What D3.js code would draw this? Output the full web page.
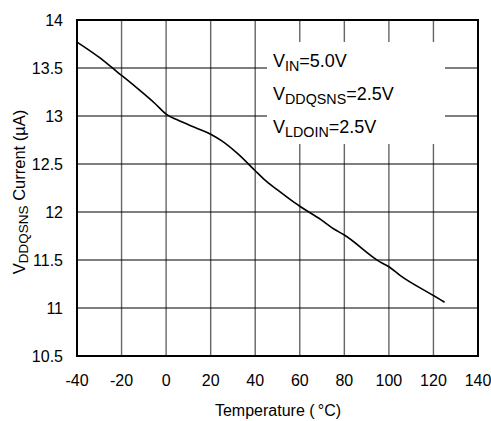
<!DOCTYPE html>
<html>
<head>
<meta charset="utf-8">
<script src="https://cdn.jsdelivr.net/npm/d3@7"></script>
<style>
body{margin:0;background:#fff;}
text{font-family:"Liberation Sans",Arial,sans-serif;fill:#000;}
</style>
</head>
<body>
<div id="container"></div>
<script>
let w=491;
let h=421;

// data
let temps=[-40,-30,-22,-13,-5,0,5,14,20,25,32,40,44,50,57.5,60,69.5,75.5,80,96,100,105,120,125];
let current=[13.77,13.61,13.46,13.29,13.13,13.02,12.96,12.87,12.81,12.74,12.61,12.43,12.34,12.23,12.10,12.06,11.92,11.82,11.76,11.48,11.43,11.34,11.13,11.06];
let xTicks=[-40,-20,0,20,40,60,80,100,120,140];
let yTicks=[10.5,11,11.5,12,12.5,13,13.5,14];
let notes=[["V","IN","=5.0V"],["V","DDQSNS","=2.5V"],["V","LDOIN","=2.5V"]];

let pl=77,pr=478,pt=20,pb=356;

let x=d3.scaleLinear().domain([-40,140]).range([pl,pr]);
let y=d3.scaleLinear().domain([10.5,14]).range([pb,pt]);

let viz=d3.select("#container").append("svg")
  .attr("width",w).attr("height",h);

// grid
viz.append("g").selectAll("line").data(xTicks.slice(1,-1)).enter()
  .append("line")
  .attr("x1",d=>x(d)).attr("x2",d=>x(d))
  .attr("y1",pt).attr("y2",pb)
  .attr("stroke","#666").attr("stroke-width",1.4);
viz.append("g").selectAll("line").data(yTicks.slice(1,-1)).enter()
  .append("line")
  .attr("x1",pl).attr("x2",pr)
  .attr("y1",d=>y(d)).attr("y2",d=>y(d))
  .attr("stroke","#000").attr("stroke-width",1);

// white box behind the notes
viz.append("rect")
  .attr("x",267).attr("y",42).attr("width",178).attr("height",102)
  .attr("fill","#fff");

let note=viz.append("g");
notes.forEach(function(n,i){
  let t=note.append("text")
    .attr("x",273).attr("y",67+i*33)
    .attr("font-size",18);
  t.append("tspan").text(n[0]);
  t.append("tspan").text(n[1]).attr("font-size",14.3).attr("dy",4);
  t.append("tspan").text(n[2]).attr("dy",-4);
});

// curve
let line=d3.line().x((d,i)=>x(temps[i])).y(d=>y(d)).curve(d3.curveMonotoneX);
viz.append("path")
  .datum(current)
  .attr("d",line)
  .attr("fill","none")
  .attr("stroke","#000")
  .attr("stroke-width",1.6);

// frame
viz.append("rect")
  .attr("x",pl).attr("y",pt)
  .attr("width",pr-pl).attr("height",pb-pt)
  .attr("fill","none").attr("stroke","#000").attr("stroke-width",2);

// tick labels
viz.append("g").selectAll("text").data(xTicks).enter()
  .append("text")
  .text(d=>d)
  .attr("x",d=>x(d)).attr("y",386)
  .attr("text-anchor","middle")
  .attr("font-size",16);
viz.append("g").selectAll("text").data(yTicks).enter()
  .append("text")
  .text(d=>d)
  .attr("x",63).attr("y",d=>y(d)+6)
  .attr("text-anchor","end")
  .attr("font-size",16);

// axis titles
viz.append("text")
  .text("Temperature (\u2009°C)")
  .attr("x",278).attr("y",416)
  .attr("text-anchor","middle")
  .attr("font-size",16);

let yl=viz.append("text")
  .attr("transform","translate(25,192) rotate(-90)")
  .attr("text-anchor","middle")
  .attr("font-size",16.5);
yl.append("tspan").text("V");
yl.append("tspan").text("DDQSNS").attr("font-size",13.5).attr("dy",3);
yl.append("tspan").text(" Current (µA)").attr("dy",-3);
</script>
</body>
</html>
